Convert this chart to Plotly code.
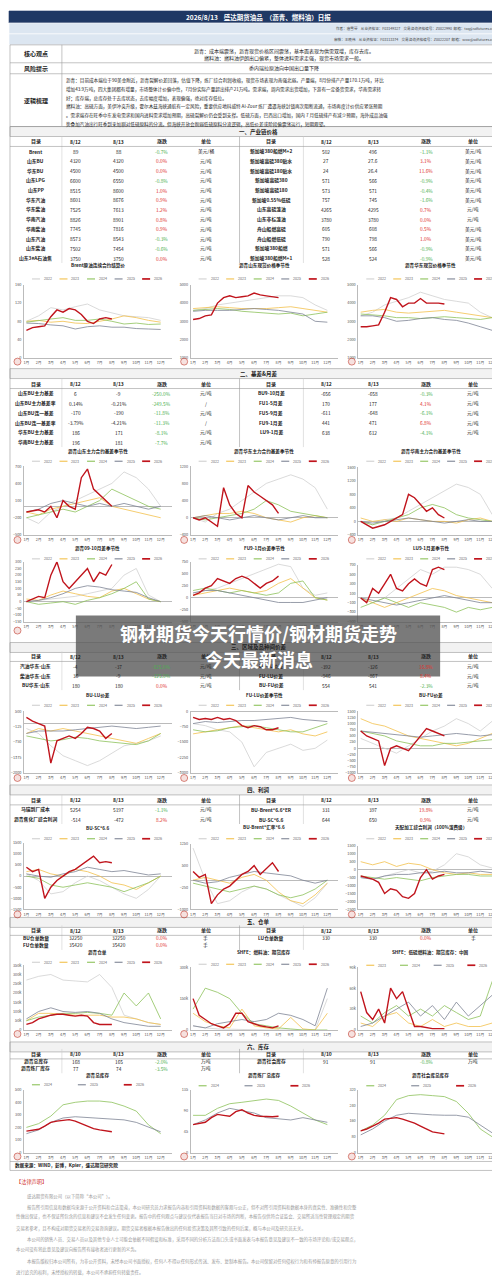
import plotly.graph_objects as go

W, H = 500, 1277
def X(p): return p / W
def Y(p): return 1 - p / H

# ---------------- DATA ----------------
years5 = ["2022", "2023", "2024", "2025", "2026"]
months = [1, 2, 3, 4, 5, 6, 7, 8, 9, 10, 11, 12]
months26 = [1, 1.5, 2, 2.5, 3, 3.5, 4, 4.5, 5, 5.5, 6, 6.5, 7, 7.5, 8]
month_labels = ["1月", "2月", "3月", "4月", "5月", "6月", "7月", "8月", "9月", "10月", "11月", "12月"]

brent = {"2022": [80,92,110,105,112,118,105,98,92,90,88,82], "2023": [80,82,78,80,76,75,80,85,92,88,82,78],
         "2024": [78,82,85,88,82,82,85,80,74,76,73,74], "2025": [76,75,72,70,63,68,70,67,67,64,63,62],
         "2026": [60,66,68,70,90,105,100,108,105,95,80,75,85,88,85]}
bu_sd = {"2022": [3600,3700,3900,4000,4100,4200,4300,4400,4400,4300,3900,3600], "2023": [3700,3750,3800,3750,3700,3700,3700,3750,3800,3700,3600,3500],
         "2024": [3600,3650,3700,3650,3550,3500,3450,3400,3450,3300,3400,3500], "2025": [3550,3600,3600,3600,3650,3700,3650,3600,3500,3400,3000,2950],
         "2026": [3100,3150,3300,3350,4000,4300,4400,4300,4350,4400,4550,4450,4400,4350,4300]}
bu_hd = {"2022": [3300,3500,3900,4100,4300,4600,4400,4200,4100,4000,3500,3200], "2023": [3500,3600,3650,3500,3450,3500,3550,3600,3500,3400,3300,3200],
         "2024": [3400,3350,3300,3200,3200,3150,3200,3250,3200,3150,3100,3200], "2025": [3300,3300,3200,3000,3050,3150,3200,3100,3050,2900,2700,2500],
         "2026": [2700,2700,2750,2800,3500,4300,4200,3800,4000,4000,4250,4000,4000,4000,3950]}
basis_sd = {"2022": [-200,-300,-100,0,100,200,300,400,600,500,300,0], "2023": [-100,-150,-50,0,50,100,150,0,-50,-100,-150,-200],
            "2024": [-200,-150,-100,-50,-100,0,100,300,200,100,0,-50], "2025": [-100,-50,50,100,50,0,50,0,50,0,-50,0],
            "2026": [-100,-80,-60,-100,0,-200,100,0,-50,500,650,300,200,100,0]}
basis_hd = {"2022": [0,-100,100,200,400,600,800,900,1000,900,700,200], "2023": [0,50,100,100,150,100,0,-50,-100,0,50,0],
            "2024": [0,-50,0,50,100,200,400,300,150,100,50,0], "2025": [0,50,0,-50,0,50,0,-50,0,50,0,0],
            "2026": [0,-50,0,-100,-200,700,300,100,0,750,600,500,400,300,100]}
basis_hn = {"2022": [0,-100,50,100,300,500,700,900,1100,1000,800,200], "2023": [100,0,50,0,100,50,0,0,-50,50,100,0],
            "2024": [0,-100,0,100,200,400,500,400,200,100,50,0], "2025": [0,-50,0,50,100,50,0,-50,0,50,0,0],
            "2026": [0,-100,-200,-150,-100,0,100,200,800,700,500,300,400,200,100]}
sp_bu = {"2022": [0,10,20,30,40,60,80,100,200,250,50,0], "2023": [20,10,50,80,60,40,30,80,100,60,20,0],
         "2024": [0,-20,-10,0,-20,10,30,60,100,150,20,0], "2025": [0,10,30,60,100,120,110,90,80,70,30,0],
         "2026": [0,20,40,30,200,300,150,100,150,200,250,150,220,200,280]}
sp_fu = {"2022": [100,150,200,300,400,500,600,700,650,200,50,100], "2023": [50,100,150,200,150,100,150,300,400,200,0,-50],
         "2024": [150,200,150,100,150,100,50,100,300,350,0,-50], "2025": [100,150,150,100,50,0,-50,-100,-100,-100,-50,0],
         "2026": [50,100,200,250,400,350,300,400,450,400,300,200,300,350,450]}
sp_lu = {"2022": [0,-100,0,200,400,600,500,650,650,600,500,200], "2023": [0,-100,-200,-100,0,100,200,150,50,0,-50,-100],
         "2024": [-200,-100,0,-100,-200,-100,-150,-200,-300,-200,-250,-200], "2025": [0,-50,-100,-150,-100,-50,0,50,0,-50,-100,-100],
         "2026": [0,-100,200,100,300,500,200,150,300,400,300,250,600,650,600]}
bu_lu = {"2022": [-200,-400,-900,-1300,-1500,-1700,-1500,-1200,-900,-800,-700,-500], "2023": [-400,-200,-300,-200,-300,-400,-500,-600,-700,-800,-600,-400],
         "2024": [-500,-600,-700,-650,-550,-600,-700,-750,-800,-850,-700,-400], "2025": [-400,-300,-300,-300,-250,-200,-150,-100,-150,-200,-150,-100],
         "2026": [250,100,0,-100,-1600,-700,-600,-500,-600,-400,-150,-200,-300,-600,-400]}
fu_lu = {"2022": [-600,-700,-900,-1000,-1500,-2700,-2000,-1800,-1600,-1900,-1800,-1400], "2023": [-1100,-1000,-900,-800,-700,-800,-900,-1000,-900,-1100,-1200,-1000],
         "2024": [-900,-1000,-950,-800,-750,-700,-800,-900,-1000,-1000,-800,-600], "2025": [-600,-500,-550,-500,-450,-450,-400,-350,-300,-400,-450,-500],
         "2026": [-300,-400,-350,-400,-300,-400,-350,-450,-700,-800,-700,-750,-900,-900,-800]}
bu_fu = {"2022": [400,200,0,-200,100,400,700,900,1200,1000,700,1100], "2023": [1200,1000,900,700,500,400,300,200,100,200,400,600],
         "2024": [700,600,500,300,200,100,100,200,200,250,300,350], "2025": [700,650,600,550,500,450,500,550,600,550,500,550],
         "2026": [700,500,400,300,-700,0,100,0,-100,200,500,800,700,600,500]}
bu_sc = {"2022": [100,-200,-800,-700,-300,0,-200,-500,-800,-1000,-600,0], "2023": [200,300,100,0,300,200,0,-300,-400,-600,-300,0],
         "2024": [0,-100,-400,-500,-400,-300,-400,-500,-700,-500,-300,0], "2025": [100,0,-50,100,200,400,300,200,250,150,50,100],
         "2026": [400,200,300,-1000,-500,-200,0,200,300,500,700,900,600,650,600]}
bu_brent = {"2022": [1100,0,-800,-700,-400,-200,-300,-500,-700,-900,-600,-100], "2023": [0,100,0,-100,100,200,0,-400,-700,-800,-500,-100],
            "2024": [-100,-200,-300,-400,-300,-200,-300,-500,-600,-500,-300,0], "2025": [0,-100,-50,100,200,300,250,200,150,0,-100,0],
            "2026": [300,100,200,-800,-500,-300,-200,0,200,300,500,200,400,600,300]}
profit = {"2022": [-500,-600,-400,-200,0,-200,-100,300,1000,800,300,100], "2023": [500,300,500,200,400,300,0,-200,-300,-200,-300,-300],
          "2024": [-400,-500,-600,-500,-600,-700,-500,-400,-300,-300,-400,-400], "2025": [-500,-600,-400,-300,-300,-200,-200,-100,-200,-200,-100,-200],
          "2026": [-400,-500,-600,-800,-1500,-1200,-1300,-1700,-1800,-1500,-500,0,-600,-400,-300]}
wr_bu = {"2022": [270000,290000,300000,270000,265000,260000,300000,230000,80000,60000,40000,30000], "2023": [50000,90000,90000,85000,80000,80000,80000,70000,70000,60000,40000,30000],
         "2024": [50000,70000,80000,90000,90000,95000,90000,80000,200000,130000,200000,60000], "2025": [60000,100000,120000,100000,95000,100000,90000,60000,40000,30000,20000,20000],
         "2026": [30000,40000,60000,70000,80000,85000,85000,80000,75000,80000,75000,40000,30000,30000,30000]}
wr_fu = {"2022": [20000,10000,5000,3000,2000,1000,0,0,0,0,0,150000], "2023": [80000,40000,20000,10000,100000,20000,10000,5000,60000,5000,0,80000],
         "2024": [100000,200000,180000,150000,80000,30000,20000,10000,5000,0,0,0], "2025": [20000,10000,30000,40000,50000,40000,50000,80000,70000,50000,20000,200000],
         "2026": [150000,70000,50000,30000,20000,10000,30000,80000,80000,40000,30000,20000,15000,10000,20000]}
wr_lu = {"2023": [10000,5000,20000,25000,10000,5000,15000,5000,10000,5000,5000,10000], "2024": [20000,10000,25000,35000,20000,30000,20000,35000,25000,15000,20000,70000],
         "2025": [5000,10000,20000,30000,40000,20000,35000,15000,40000,20000,35000,50000],
         "2026": [55000,25000,15000,30000,10000,60000,45000,55000,30000,5000,5000,3000,2000,2000,2000]}
inv_total = {"2024": [200,230,290,380,400,410,410,400,370,330,220,150], "2025": [150,180,240,275,285,280,270,265,260,240,200,165],
             "2026": [170,175,185,210,240,250,255,262,250,230,205,190,180,175,165]}
inv_ref = {"2024": [80,80,95,105,108,112,115,112,100,85,70,60], "2025": [60,70,85,95,90,85,75,72,70,75,70,65],
           "2026": [60,62,65,75,82,80,78,88,92,85,80,78,77,77,78]}
inv_soc = {"2024": [110,140,190,270,290,295,290,285,260,200,120,80], "2025": [90,120,160,190,200,195,192,190,190,180,140,100],
           "2026": [110,120,135,150,170,175,178,170,160,150,135,120,105,100,95]}

# Tables (label, 8/12, 8/13, change, unit)
t1_left = [["Brent","89","88","-0.7%","美元/桶"],["山东BU","4320","4320","0.0%","元/吨"],["华东BU","4500","4500","0.0%","元/吨"],
           ["山东LPG","6600","6550","-0.8%","元/吨"],["山东PP","8515","8600","1.0%","元/吨"],["华东汽油","8601","8676","0.9%","元/吨"],
           ["华东柴油","7525","7613","1.2%","元/吨"],["华南汽油","8826","8901","0.8%","元/吨"],["华南柴油","7745","7816","0.9%","元/吨"],
           ["山东汽油","8573","8543","-0.3%","元/吨"],["山东柴油","7502","7454","-0.6%","元/吨"],["山东3#A石油焦","3750","3750","0.0%","元/吨"]]
t1_right = [["新加坡380船燃M+2","502","496","-1.1%","美元/吨"],["新加坡高硫380贴水","27","27.6","3.1%","美元/吨"],["新加坡高硫180贴水","24","26.4","11.6%","美元/吨"],
            ["新加坡高硫380","571","566","-0.9%","美元/吨"],["新加坡高硫180","573","571","-0.4%","美元/吨"],["新加坡0.55%低硫","757","745","-1.6%","美元/吨"],
            ["山东高硫渣油","4265","4295","0.7%","元/吨"],["山东非标渣油","3780","3780","0.0%","元/吨"],["舟山船燃高硫","605","608","0.5%","美元/吨"],
            ["舟山船燃低硫","790","798","1.0%","美元/吨"],["新加坡380船燃","571","566","-0.9%","美元/吨"],["新加坡380船燃M+1","528","524","-0.9%","美元/吨"]]
t2_left = [["山东BU主力基差","6","-9","-250.0%","元/吨"],["山东BU主力基差率","0.14%","-0.21%","-249.5%","/"],["山东BU连一基差","-170","-190","-11.8%","元/吨"],
           ["山东BU连一基差率","-3.79%","-4.21%","-11.3%","/"],["华东BU主力基差","186","171","-8.1%","元/吨"],["华南BU主力基差","196","181","-7.7%","元/吨"]]
t2_right = [["BU9-10月差","-656","-658","-0.3%","元/吨"],["FU1-5月差","170","177","4.1%","元/吨"],["FU5-9月差","-611","-648","-6.1%","元/吨"],
            ["FU9-1月差","441","471","6.8%","元/吨"],["LU9-1月差","638","612","-4.1%","元/吨"]]
t3_left = [["汽油华东-山东","-4","-37","-825.0%","元/吨"],["柴油华东-山东","36","-9","-125.0%","元/吨"],["BU华东-山东","180","180","0.0%","元/吨"]]
t3_right = [["LU-FU价差","-392","-326","16.8%","元/吨"],["FU-LU价差","-946","-867","8.4%","元/吨"],["BU-FU价差","554","541","-2.3%","元/吨"]]
t4_left = [["马瑞到厂成本","5254","5197","-1.1%","元/吨"],["沥青焦化厂综合利润","-514","-472","8.2%","元/吨"]]
t4_right = [["BU-Brent*6.6*ER","331","397","19.8%","元/吨"],["BU-SC*6.6","644","650","0.9%","元/吨"]]
t5_left = [["BU仓单数量","32250","32250","0.0%","手"],["FU仓单数量","35420","35420","0.0%","手"]]
t5_right = [["LU仓单数量","330","330","0.0%","手"]]
t6_left = [["沥青总库存","168","165","-2.0%","万吨"],["沥青炼厂库存","77","74","-3.5%","万吨"]]
t6_right = [["沥青社会库存","91","91","-0.8%","万吨"]]

colors = {"2022": "#d0d0d0", "2023": "#f2c04b", "2024": "#8dc25a", "2025": "#7d8494", "2026": "#c0141c"}
widths = {"2022": 0.8, "2023": 0.8, "2024": 0.8, "2025": 0.8, "2026": 1.4}

fig = go.Figure()
ann, shp = [], []
FONT = "Noto Sans CJK SC"

def text(x, y, s, size=5, color="#222", anchor="center", bold=False):
    if bold:
        s = "<b>" + s + "</b>"
    ann.append(dict(x=X(x), y=Y(y), xref="paper", yref="paper", text=s, showarrow=False,
                    xanchor=anchor, yanchor="middle", font=dict(size=size, color=color, family=FONT)))

def rect(x0, y0, x1, y1, fill=None, line="#9a9a9a", lw=0.6):
    shp.append(dict(type="rect", xref="paper", yref="paper", x0=X(x0), x1=X(x1), y0=Y(y1), y1=Y(y0),
                    fillcolor=fill or "rgba(0,0,0,0)", line=dict(color=line, width=lw), layer="below"))

def hline(x0, x1, y, color="#9a9a9a", lw=0.6):
    shp.append(dict(type="line", xref="paper", yref="paper", x0=X(x0), x1=X(x1), y0=Y(y), y1=Y(y), line=dict(color=color, width=lw)))

def vline(x, y0, y1, color="#9a9a9a", lw=0.6):
    shp.append(dict(type="line", xref="paper", yref="paper", x0=X(x), x1=X(x), y0=Y(y0), y1=Y(y1), line=dict(color=color, width=lw)))

# ---------------- Header ----------------
rect(0, 0, 500, 12, fill="#1f3864", line="#1f3864")
text(250, 6, "2026/8/13    盛达期货油品  （沥青、燃料油）日报", 6.5, "white", bold=True)
rect(0, 12, 500, 23, fill="#dce6f1", line="#ffffff")
rect(0, 23, 500, 34, fill="#dce6f1", line="#ffffff")
text(496, 17.5, "作者：唐雪琴    从业资格证：F03149327    交易咨询资格编号：Z0022990  邮箱：txq@sdfutures.com.cn", 3.6, "#444", "right")
text(496, 28.5, "审核：王晓伟    从业资格证：F03113374    交易咨询资格编号：Z0022207  邮箱：wxw@sdfutures.com.cn", 3.6, "#444", "right")
rect(1, 34, 499, 116)
vline(53, 34, 116); hline(1, 499, 52); hline(1, 499, 63)
text(27, 43, "核心观点", 6, bold=True); text(27, 57.5, "风险提示", 6, bold=True); text(27, 90, "逻辑梳理", 6, bold=True)
text(276, 40, "沥青：成本端震荡，沥青现货价格区间震荡，基本面表现为供需双增，库存去库。", 5)
text(276, 47, "燃料油：燃料油伊朗出口偏紧，整体进料需求走强，现货市场需求一般。", 5)
text(276, 57.5, "委内瑞拉原油向中国出口量下降", 5)
logic = ["沥青：目前成本端位于90美金附近，沥青裂解价差回落，估值下降，炼厂综合利润收缩，现货市场表现为南强北弱。产量端，8月份排产产量170.1万吨，环比",
         "增加43.9万吨，四大集团都有增量，市场整体计价偏中性，7月份实际产量超出排产21万吨。需求端，周内需求出货增加，下游有一定备货需求，华南需求转",
         "好；库存端，总库存处于去库状态，去库幅度增加，表现偏强，绝对库存低位。",
         "燃料油：高硫方面，美伊冲突升级，霍尔木兹海峡通航有一定风险，重要供应地科威特 Al-Zour 炼厂遭遇海峡封锁再次阻断流通，市场再度计价供应紧张预期",
         "。需求端存在旺季中东发电需求和国内进料需求增加预期，高硫裂解价仍会受到支撑。低硫方面，巴西出口增加，国内 7 月低硫排产有减少预期，海外成品油强",
         "势叠加汽油出行旺季到来加剧对低硫原料的分流。但海峡开放会削弱低硫原料分流逻辑，高低价差或阶段偏震荡运行，短期观望。"]
for i, ln in enumerate(logic):
    text(55, 70 + i * 8.7, ln, 4.6, anchor="left")

# ---------------- Tables ----------------
colsL = [27, 67, 110, 153, 197]
colsR = [263, 318, 365, 418, 465]
def section(y, title):
    rect(1, y - 5, 499, y + 5, fill="#f2f2f2")
    text(250, y, title, 5.5, bold=True)
def table(yh, step, left, right, hdr=("8/12", "8/13")):
    for cols in (colsL, colsR):
        for c, h in zip(cols, ["目录", hdr[0], hdr[1], "涨跌", "单位"]):
            text(c, yh, h, 5, bold=True)
    for rows, cols in ((left, colsL), (right, colsR)):
        for i, r in enumerate(rows):
            y = yh + step * (i + 1)
            for j, v in enumerate(r):
                col = "#222"
                if j == 3:
                    col = "#4caf50" if v.startswith("-") else "#e0312b"
                text(cols[j], y, v, 4.8, col, bold=(j == 0))
    n = max(len(left), len(right))
    vline(231, yh - 5, yh + step * n + 5)
    vline(295, yh - 5, yh + step * n + 5, color="#cccccc")
    vline(53, yh - 5, yh + step * n + 5, color="#cccccc")
    hline(1, 499, yh + 5)

section(121, "一、产业链价格"); table(131, 9.75, t1_left, t1_right)
section(364, "二、基差&月差"); table(374, 9.8, t2_left, t2_right)
section(639, "三、区域及品种间价差"); table(648, 9.6, t3_left, t3_right)
section(782, "四、利润"); table(792, 9.6, t4_left, t4_right)
section(915, "五、仓单"); table(923, 7.3, t5_left, t5_right)
section(1040, "六、库存"); table(1047, 7.2, t6_left, t6_right, hdr=("8/10", "8/13"))
rect(1, 116, 499, 1164)

# ---------------- Charts ----------------
cells = [(15, 163), (182, 330), (350, 495)]
ax_i = [0]
def chart(col, title, ty, ly, top, bot, mly, data, yr, dt, ylist=years5):
    ax_i[0] += 1
    n = ax_i[0]
    xa, ya = ("x" if n == 1 else f"x{n}"), ("y" if n == 1 else f"y{n}")
    x0, x1 = cells[col]
    tcx = (cells[col][0] + cells[col][1]) / 2
    text(tcx, ty, title, 4.6, bold=True)
    # legend
    lw = (x1 - x0 - 10) / len(ylist)
    for k, yname in enumerate(ylist):
        lx = x0 + 8 + k * lw
        shp.append(dict(type="line", xref="paper", yref="paper", x0=X(lx), x1=X(lx + 8), y0=Y(ly), y1=Y(ly),
                        line=dict(color=colors[yname], width=widths[yname] + 0.3)))
        text(lx + 10, ly, yname, 3.6, "#666", "left")
    for yname in ylist:
        xs = months26 if yname == "2026" else months
        fig.add_trace(go.Scatter(x=xs, y=data[yname], mode="lines", xaxis=xa, yaxis=ya, showlegend=False,
                                 line=dict(color=colors[yname], width=widths[yname]), hoverinfo="skip"))
    lay = {}
    lay["xaxis" if n == 1 else f"xaxis{n}"] = dict(domain=[X(x0), X(x1)], anchor=ya, range=[0.8, 12.9],
        tickvals=months, ticktext=month_labels, tickfont=dict(size=3.8, color="#555", family=FONT),
        showgrid=False, showline=True, linecolor="#bbb", linewidth=0.6, ticks="", zeroline=False, fixedrange=True, ticklabelstandoff=1)
    lay["yaxis" if n == 1 else f"yaxis{n}"] = dict(domain=[Y(bot), Y(top)], anchor=xa, range=yr, dtick=dt, tick0=yr[0],
        tickfont=dict(size=3.8, color="#555", family=FONT), showgrid=False, showline=True, linecolor="#bbb", linewidth=0.6,
        zeroline=True, zerolinecolor="#bbb", zerolinewidth=0.5, ticks="", fixedrange=True, ticklabelstandoff=1)
    fig.update_layout(**lay)
    # logo mark
    shp.append(dict(type="circle", xref="paper", yref="paper", x0=X(x0 - 10), x1=X(x0 - 3), y0=Y(mly + 3.5), y1=Y(mly - 3.5),
                    line=dict(color="#c0392b", width=0.6), fillcolor="rgba(192,57,43,0.15)"))

chart(0, "Brent原油连续合约结算价", 256, 269, 275, 348, 352, brent, [0, 160], 40)
chart(1, "沥青山东现货价格季节性", 256, 269, 275, 348, 352, bu_sd, [1000, 5000], 1000)
chart(2, "沥青华东现货价格季节性", 256, 269, 275, 348, 352, bu_hd, [1000, 5000], 1000)
chart(0, "沥青山东主力合约基差季节性", 442, 452, 457, 526, 531, basis_sd, [-500, 700], 300)
chart(1, "沥青华东主力合约基差季节性", 442, 452, 457, 526, 531, basis_hd, [-400, 1200], 400)
chart(2, "沥青华南主力合约基差季节性", 442, 452, 458, 526, 531, basis_hn, [-400, 1600], 400)
chart(0, "沥青09-10月差季节性", 540, 550, 553, 613, 622, sp_bu, [-150, 300], 50)
chart(1, "FU9-1月价差季节性", 540, 550, 553, 613, 622, sp_fu, [-500, 750], 250)
chart(2, "LU9-1月差季节性", 540, 550, 556, 613, 622, sp_lu, [-500, 700], 200)
chart(0, "BU-LU价差", 687, 697, 703, 765, 770, bu_lu, [-2000, 500], 625)
chart(1, "FU-LU价差季节性", 687, 697, 703, 765, 770, fu_lu, [-3000, 0], 750)
chart(2, "BU-FU价差", 687, 697, 703, 765, 770, bu_fu, [-1000, 1500], 250)
chart(0, "BU-SC*6.6", 820, 831, 835, 902, 907, bu_sc, [-1500, 1500], 500)
chart(1, "BU-Brent*汇率*6.6", 820, 831, 836, 902, 907, bu_brent, [-1000, 1250], 750)
chart(2, "天配加工综合利润（100%渣费级）", 820, 831, 838, 902, 907, profit, [-2500, 1500], 500)
chart(0, "沥青仓单", 945, 955, 958, 1023, 1027, wr_bu, [0, 350000], 50000)
chart(1, "SHFE：燃料油：期货库存", 945, 957, 960, 1023, 1027, wr_fu, [0, 300000], 150000)
chart(2, "SHFE：低硫燃料油：期货库存：中国", 945, 958, 960, 1023, 1027, wr_lu, [0, 90000], 30000, ["2023", "2024", "2025", "2026"])
chart(0, "沥青总库存", 1069, 1078, 1083, 1146, 1150, inv_total, [0, 500], 100, ["2024", "2025", "2026"])
chart(1, "沥青炼厂总库存", 1069, 1079, 1083, 1146, 1150, inv_ref, [0, 135], 45, ["2024", "2025", "2026"])
chart(2, "沥青社会库总库存", 1069, 1079, 1083, 1146, 1150, inv_soc, [0, 320], 80, ["2024", "2025", "2026"])

hline(1, 499, 1155)
text(4, 1159, "数据来源：WIND，彭博，Kpler，盛达期货研究院", 4.6, anchor="left", bold=True)

# ---------------- Legal ----------------
text(5, 1176, "【法律声明】", 5.2, "#d0312d", "left")
legal = [(16, 1190, "盛达期货有限公司（以下简称“本公司”）。"),
         (16, 1201, "报告所引用信息和数据均来源于公开资料和合法渠道，本公司研究员力求报告内容和引用资料和数据的客观与公正，但不对所引用资料和数据本身的真实性、准确性和完整"),
         (5, 1210, "性做出保证，也不保证所包含的信息和建议不会发生任何变更。报告中的任何观点与建议仅代表报告当日对市场的判断，本报告仅供符合证监会、交易所适当性管理规定的期货"),
         (5, 1222, "交易者参考，且不构成对期货交易者的交易咨询建议。期货交易者根据本报告做出的任何投资决策及其所引致的任何后果，概与本公司及研究员无关。"),
         (16, 1233, "本公司的销售人员、交易人员以及其他专业人士可能会依据不同假设和标准，采用不同的分析方法而口头或书面发表与本报告意见及建议不一致的市场评论和/或交易观点，"),
         (5, 1243, "本公司没有将此意见及建议向报告所有接收者进行更新的义务。"),
         (16, 1255, "本报告版权归本公司所有，为非公开资料，未经本公司书面授权，任何人不得以任何形式传送、发布、复制本报告。本公司保留对任何侵权行为和有悖报告原意的引用行为"),
         (5, 1266, "进行追究的权利，未经授权的转载，本公司不承担任何转载责任。")]
for lx, ly, s in legal:
    text(lx, ly, s, 4.4, "#999", "left")
hline(0, 500, 1275, "#cccccc")

# ---------------- Overlay banner ----------------
shp.append(dict(type="rect", xref="paper", yref="paper", x0=X(67), x1=X(432), y0=Y(668), y1=Y(607),
                fillcolor="rgba(85,85,85,0.78)", line=dict(width=0), layer="above"))
text(250, 624, "钢材期货今天行情价/钢材期货走势", 18, "white", bold=True)
text(250, 651, "今天最新消息", 18, "white", bold=True)

fig.update_layout(width=W, height=H, margin=dict(l=0, r=0, t=0, b=0), paper_bgcolor="white", plot_bgcolor="white",
                  annotations=ann, shapes=shp, showlegend=False, font=dict(family=FONT))
fig.write_html("out.html")
